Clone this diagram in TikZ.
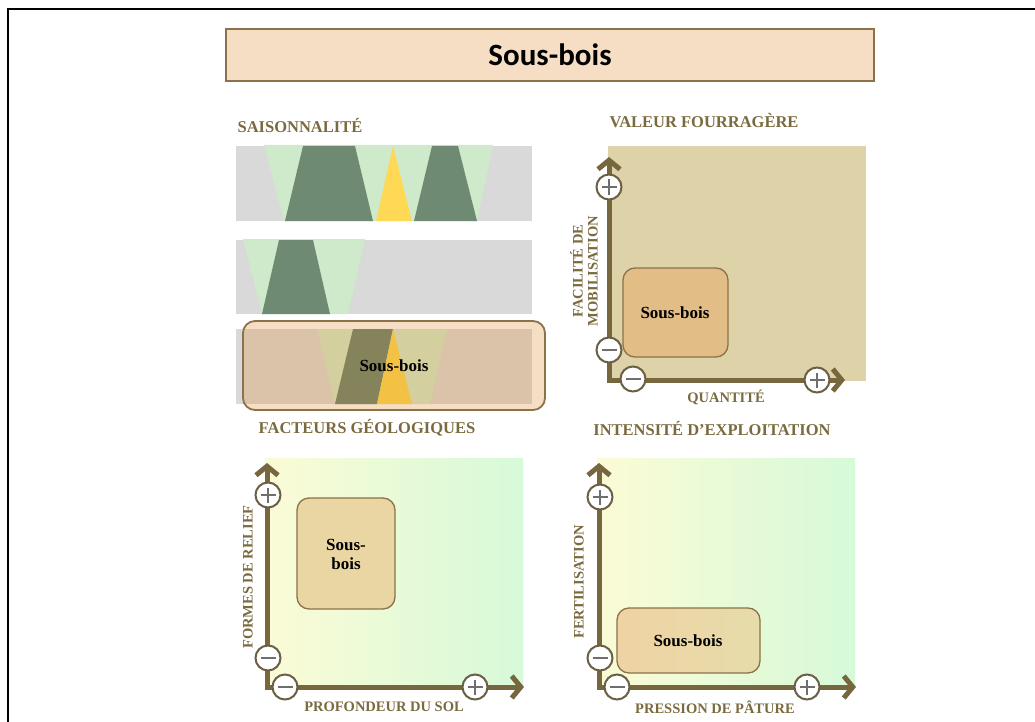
\documentclass[tikz,border=0pt]{standalone}
\usepackage{fontspec}
\setmainfont{Liberation Serif}
\newfontfamily\titlefont{Carlito}
\usetikzlibrary{arrows.meta}
\definecolor{peach}{HTML}{F6DEC4}
\definecolor{brd}{HTML}{8B7248}
\definecolor{lab}{HTML}{7A6A3F}
\definecolor{axc}{HTML}{76673F}
\definecolor{barg}{HTML}{D9D9D9}
\definecolor{lgreen}{HTML}{CFEACA}
\definecolor{dgreen}{HTML}{6E8A73}
\definecolor{yel}{HTML}{FFD955}
\definecolor{tgray}{HTML}{DBC3A9}
\definecolor{tlg}{HTML}{D3CF9E}
\definecolor{tdg}{HTML}{85835C}
\definecolor{tyel}{HTML}{F3C244}
\definecolor{bgtan}{HTML}{DED2A9}
\definecolor{boxtan}{HTML}{E2BD86}
\definecolor{box3}{HTML}{EAD6A2}
\definecolor{box4l}{HTML}{EFD3A4}
\definecolor{box4r}{HTML}{E6DCAA}
\definecolor{lyel}{HTML}{FBFBD6}
\definecolor{lgrn}{HTML}{D6FAD8}
\definecolor{signc}{HTML}{6E6E6E}
\definecolor{ringc}{HTML}{6B5F45}
\tikzset{
  sectlabel/.style={font=\bfseries\fontsize{16.5}{18}\selectfont, text=lab},
  axlabel/.style={font=\bfseries\fontsize{14.5}{15}\selectfont, text=lab, align=center},
  boxtext/.style={font=\bfseries\fontsize{17}{19}\selectfont, text=black, align=center},
  axis/.style={draw=axc, line width=5pt, line join=miter, {Straight Barb[length=9pt,width=22pt]}-{Straight Barb[length=9pt,width=22pt]}},
  sousbox/.style={draw=brd, line width=1.3pt, rounded corners=12pt},
  signbase/.style={circle, draw=ringc, line width=2pt, fill=white, minimum size=25pt, inner sep=0pt},
  plusc/.style={signbase, path picture={\draw[signc,line width=2pt]
     ([xshift=-7.5pt]path picture bounding box.center) -- ([xshift=7.5pt]path picture bounding box.center)
     ([yshift=-7.5pt]path picture bounding box.center) -- ([yshift=7.5pt]path picture bounding box.center);}},
  minusc/.style={signbase, path picture={\draw[signc,line width=2pt]
     ([xshift=-7.5pt]path picture bounding box.center) -- ([xshift=7.5pt]path picture bounding box.center);}},
}
\begin{document}
\begin{tikzpicture}[x=1pt,y=-1pt]
\useasboundingbox (0,0) rectangle (1035,722);
% frame
\draw[black, line width=2.5pt] (8,730) -- (8,9) -- (1040,9);
% title
\node[draw=brd, line width=1.3pt, fill=peach, minimum width=648pt, minimum height=52pt, inner sep=0pt] (title) at (550,55) {\titlefont\bfseries\fontsize{31}{34}\selectfont Sous-bois};

% section labels
\node[sectlabel] (s1) at (300,126) {SAISONNALITÉ};
\node[sectlabel] (s2) at (704,121) {VALEUR FOURRAGÈRE};
\node[sectlabel] (s3) at (367,428) {FACTEURS GÉOLOGIQUES};
\node[sectlabel] (s4) at (712,428) {INTENSITÉ D’EXPLOITATION};

% ---- Saisonnalite bar 1
\fill[barg] (236,146) rectangle (532,221);
\fill[lgreen] (264,145) -- (493,145) -- (477,221) -- (284,221) -- cycle;
\fill[dgreen] (303,146) -- (355,146) -- (373,221) -- (285,221) -- cycle;
\fill[dgreen] (432,146) -- (458,146) -- (477,221) -- (414,221) -- cycle;
\fill[yel] (393,146) -- (412,221) -- (376,221) -- cycle;
% bar 2
\fill[barg] (236,240) rectangle (532,314);
\fill[lgreen] (243,239) -- (365,239) -- (348,314) -- (262,314) -- cycle;
\fill[dgreen] (279,240) -- (313,240) -- (330,314) -- (262,314) -- cycle;
% bar 3 with overlay
\fill[barg] (236,329) rectangle (532,404);
\fill[peach, rounded corners=12pt] (243,321) rectangle (545,410);
\fill[tgray] (243.8,329) rectangle (532,404);
\fill[tlg] (317,329) -- (447,329) -- (430,404) -- (335,404) -- cycle;
\fill[tdg] (353,329) -- (393,329) -- (377,404) -- (335,404) -- cycle;
\fill[tyel] (393,329) -- (412,404) -- (377,404) -- cycle;
\node[draw=brd, line width=1.8pt, rounded corners=12pt, minimum width=302pt, minimum height=89pt, inner sep=0pt] (sb1) at (394,365.5) {};
\node[boxtext] (t1) at (394,366) {Sous-bois};

% ---- Chart 2: Valeur fourragere
\fill[bgtan] (608,146) rectangle (866,381);
\node[sousbox, fill=boxtan, minimum width=105pt, minimum height=89pt, inner sep=0pt] (b2) at (675.5,312.5) {};
\node[boxtext] (t2) at (675,313) {Sous-bois};
\coordinate (o2) at (609,380);
\coordinate (y2) at (609,157);
\coordinate (x2) at (845,380);
\draw[axis] (y2) -- (o2) -- (x2);
\node[plusc] (p2y) at (609,187) {};
\node[minusc] (m2y) at (609,350) {};
\node[minusc] (m2x) at (633,379) {};
\node[plusc] (p2x) at (817,380) {};
\node[axlabel] (q2) at (726,397) {QUANTITÉ};
\node[axlabel, rotate=90] (f2) at (584,271) {FACILITÉ DE\\MOBILISATION};

% ---- Chart 3: Facteurs geologiques
\shade[left color=lyel, right color=lgrn] (265,458) rectangle (523,687);
\node[sousbox, fill=box3, minimum width=98pt, minimum height=111pt, inner sep=0pt] (b3) at (346,553.5) {};
\node[boxtext] (t3) at (346,554) {Sous-\\bois};
\coordinate (o3) at (267,687);
\coordinate (y3) at (267,463);
\coordinate (x3) at (524,687);
\draw[axis] (y3) -- (o3) -- (x3);
\node[plusc] (p3y) at (268,495) {};
\node[minusc] (m3y) at (268,658) {};
\node[minusc] (m3x) at (285,687) {};
\node[plusc] (p3x) at (475,687) {};
\node[axlabel] (q3) at (384,707) {PROFONDEUR DU SOL};
\node[axlabel, rotate=90] (f3) at (248,577) {FORMES DE RELIEF};

% ---- Chart 4: Intensite d'exploitation
\shade[left color=lyel, right color=lgrn] (597,458) rectangle (855,687);
\node[sousbox, left color=box4l, right color=box4r, minimum width=143pt, minimum height=65pt, inner sep=0pt] (b4) at (688.5,640.5) {};
\node[boxtext] (t4) at (688,641) {Sous-bois};
\coordinate (o4) at (599,687);
\coordinate (y4) at (599,463);
\coordinate (x4) at (856,687);
\draw[axis] (y4) -- (o4) -- (x4);
\node[plusc] (p4y) at (600,497) {};
\node[minusc] (m4y) at (600,658) {};
\node[minusc] (m4x) at (617,687) {};
\node[plusc] (p4x) at (807,687) {};
\node[axlabel] (q4) at (715,707) {PRESSION DE PÂTURE};
\node[axlabel, rotate=90] (f4) at (579,582) {FERTILISATION};
\end{tikzpicture}
\end{document}
